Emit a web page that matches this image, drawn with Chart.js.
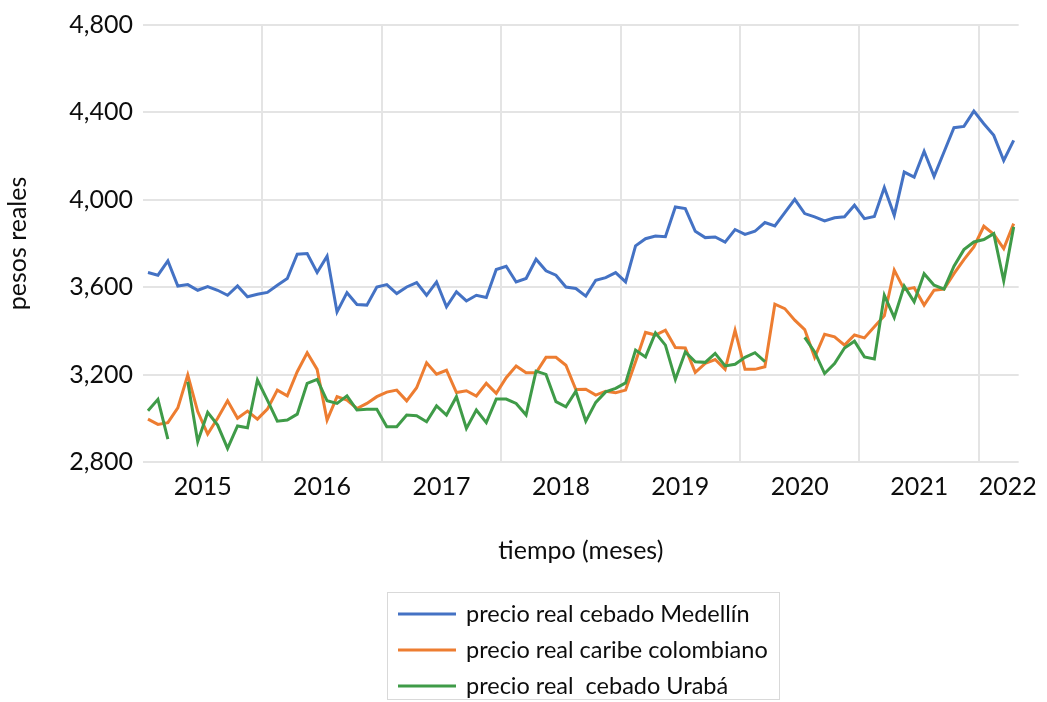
<!DOCTYPE html>
<html><head><meta charset="utf-8">
<script src="https://cdn.jsdelivr.net/npm/chart.js@4"></script>
<style>html,body{margin:0;padding:0;background:#fff}#wrap{width:1047px;height:702px;position:relative}</style>
</head><body><div id="wrap"><canvas id="c" width="1047" height="702"></canvas></div>
<script>
const yearLabels = ['2015','2016','2017','2018','2019','2020','2021','2022'];
const yearLabelPos = [6,18,30,42,54,66,78,86.9];
const yearGridPos = [12,24,36,48,60,72,84];
const yTicks = [2800,3200,3600,4000,4400,4800];

const medellin = [3667,3655,3720,3605,3612,3586,3603,3586,3563,3606,3556,3568,3576,3609,3640,3751,3754,3667,3742,3487,3575,3521,3518,3601,
3612,3571,3601,3621,3563,3624,3510,3579,3537,3563,3553,3681,3696,3624,3640,3728,3675,3655,3601,3594,3559,3632,3644,3667,
3624,3789,3822,3834,3831,3967,3960,3856,3827,3830,3806,3864,3842,3856,3896,3880,3941,4002,3937,3922,3903,3918,3922,3975,
3914,3924,4056,3929,4127,4104,4222,4107,4219,4330,4336,4406,4348,4295,4180,4272];

const caribe = [2996,2972,2980,3048,3198,3031,2928,3000,3080,3000,3033,2996,3042,3129,3103,3213,3300,3224,2992,3099,3083,3045,3068,3099,
3120,3129,3080,3140,3254,3202,3220,3118,3126,3102,3160,3114,3186,3239,3208,3208,3279,3279,3243,3132,3133,3106,3124,3117,
3129,3259,3393,3381,3403,3324,3322,3210,3251,3269,3224,3403,3224,3224,3236,3522,3502,3449,3406,3279,3385,3373,3335,3381,
3368,3419,3469,3678,3589,3598,3518,3586,3591,3662,3726,3784,3879,3842,3777,3891];

const uraba = [3035,3087,2905,null,3167,2893,3027,2969,2862,2965,2957,3175,3083,2987,2992,3019,3160,3178,3080,3068,3103,3038,3041,3041,
2961,2961,3015,3012,2984,3057,3015,3099,2954,3038,2980,3088,3088,3068,3015,3216,3201,3076,3053,3124,2987,3073,3121,3137,
3162,3312,3281,3391,3335,3178,3304,3259,3256,3297,3240,3247,3279,3300,3259,null,null,null,3370,3304,3205,3251,3322,3353,
3281,3272,3563,3461,3605,3533,3662,3609,3591,3696,3772,3807,3818,3845,3629,3876];

const seriesNames = ['precio real cebado Medellín','precio real caribe colombiano','precio real  cebado Urabá'];
const seriesColors = ['#4472C4','#ED7D31','#3F9B48'];
const seriesValues = [medellin, caribe, uraba];

const FONT = 'Lato';
const TXT = '#0d0d0d';
const GRID = '#e4e4e4';

const legendPlugin = {
  id: 'boxLegend',
  afterDraw(chart) {
    const ctx = chart.ctx;
    ctx.save();
    ctx.strokeStyle = '#d9d9d9'; ctx.lineWidth = 1;
    ctx.strokeRect(387.5, 592.5, 392, 107);
    ctx.font = '23.5px ' + FONT;
    ctx.textBaseline = 'middle';
    ctx.textAlign = 'left';
    chart.data.datasets.forEach((ds) => {
      const y = 614 + ds.legendIndex * 36;
      ctx.strokeStyle = ds.borderColor; ctx.lineWidth = 3;
      ctx.beginPath(); ctx.moveTo(398, y); ctx.lineTo(456, y); ctx.stroke();
      ctx.fillStyle = TXT;
      ctx.fillText(ds.label, 466, y);
    });
    ctx.restore();
  }
};

const datasets = seriesValues.map((vals, i) => ({
  label: seriesNames[i],
  legendIndex: i,
  data: vals.map((v, k) => ({x: k + 0.5, y: v})),
  borderColor: seriesColors[i],
  backgroundColor: seriesColors[i],
  borderWidth: 3,
  pointRadius: 0,
  tension: 0,
  spanGaps: false,
  order: 2 - i
}));

new Chart(document.getElementById('c'), {
  type: 'line',
  data: { datasets },
  options: {
    responsive: false,
    animation: false,
    devicePixelRatio: 1,
    layout: { padding: { top: 25, right: 24, bottom: 130, left: 0 } },
    plugins: { legend: { display: false }, tooltip: { enabled: false } },
    scales: {
      x: {
        type: 'linear', min: 0, max: 88,
        afterBuildTicks: s => {
          s.ticks = yearGridPos.concat(yearLabelPos).sort((a, b) => a - b).map(v => ({value: v}));
        },
        ticks: {
          autoSkip: false, maxRotation: 0, minRotation: 0, padding: 10,
          font: { family: FONT, size: 25 }, color: TXT,
          callback: v => { const i = yearLabelPos.indexOf(v); return i >= 0 ? yearLabels[i] : ''; }
        },
        grid: {
          color: c => (c.tick && yearGridPos.includes(c.tick.value)) ? GRID : 'rgba(0,0,0,0)',
          drawTicks: false, lineWidth: 2
        },
        border: { display: false },
        title: { display: true, text: 'tiempo (meses)', font: { family: FONT, size: 25 }, color: TXT, padding: { top: 0, bottom: 6 } },
        afterFit: s => { s.height = 110; }
      },
      y: {
        min: 2800, max: 4800,
        afterBuildTicks: s => { s.ticks = yTicks.map(v => ({value: v})); },
        ticks: { padding: 10, font: { family: FONT, size: 25 }, color: TXT, callback: v => v.toLocaleString('en-US') },
        grid: { color: GRID, drawTicks: false, lineWidth: 2 },
        border: { display: false },
        title: { display: true, text: 'pesos reales', font: { family: FONT, size: 25 }, color: TXT, padding: { top: 3, bottom: 0 } },
        afterFit: s => { s.width = 143; }
      }
    }
  },
  plugins: [legendPlugin]
});
</script></body></html>
